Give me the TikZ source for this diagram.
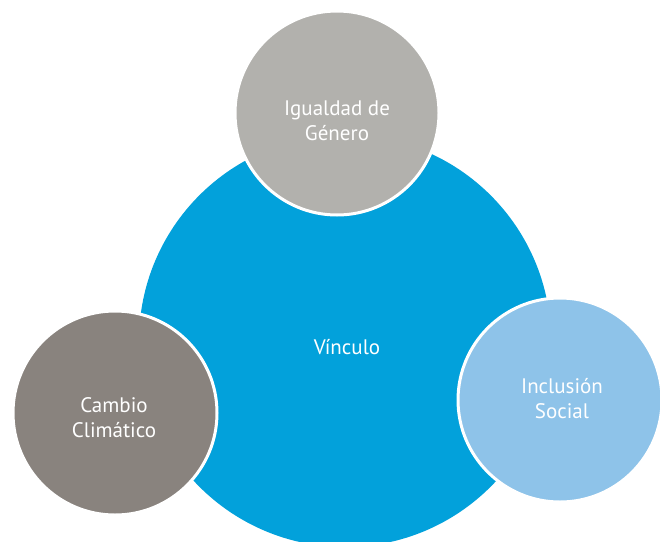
\documentclass[tikz,border=0pt]{standalone}
\usepackage{fontspec}
\setmainfont{PT Sans}
\definecolor{vinculoblue}{RGB}{2,161,219}
\definecolor{topgray}{RGB}{178,177,173}
\definecolor{leftgray}{RGB}{137,131,126}
\definecolor{rightblue}{RGB}{142,195,233}
\begin{document}
\begin{tikzpicture}[x=1pt,y=-1pt,
  bubble/.style={circle, draw=white, line width=3pt, minimum size=204pt, inner sep=0pt},
  lbl/.style={text=white, align=center, font=\fontsize{21}{25}\selectfont, inner sep=0pt}
]
\useasboundingbox (0,0) rectangle (660,541);
\begin{scope}
\clip (0,0) rectangle (660,541);
\node[circle, fill=vinculoblue, minimum size=412pt, inner sep=0pt] (v) at (345,341) {};
\node[bubble, fill=topgray] (g) at (337,113) {};
\node[bubble, fill=leftgray] (c) at (115,413) {};
\node[bubble, fill=rightblue] (s) at (560,400) {};
\end{scope}
\node[lbl] (vt) at (347,347) {Vínculo};
\node[lbl] (gt) at (337,121) {Igualdad de\\Género};
\node[lbl] (ct) at (114,418) {Cambio\\Climático};
\node[lbl] (st) at (562,399) {Inclusión\\Social};
\end{tikzpicture}
\end{document}
